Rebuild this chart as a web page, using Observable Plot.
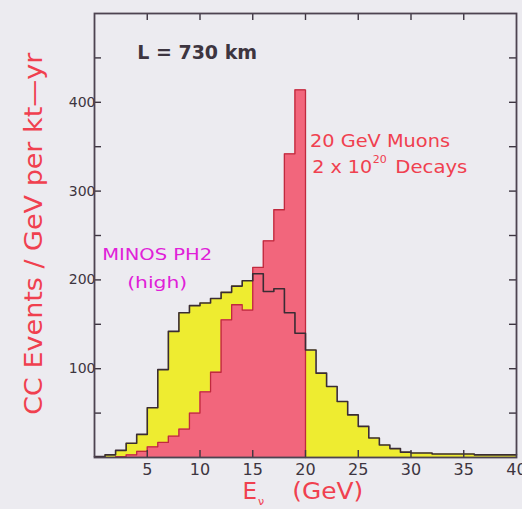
<!DOCTYPE html>
<html>
<head>
<meta charset="utf-8">
<script src="https://cdn.jsdelivr.net/npm/d3@7"></script>
<script src="https://cdn.jsdelivr.net/npm/@observablehq/plot@0.6"></script>
<style>
  html, body { margin: 0; padding: 0; background: #ecebf0; }
  #chart { width: 522px; height: 509px; overflow: hidden; }
</style>
</head>
<body>
<div id="chart"></div>
<script>
// ---- data ----
const binEdges = [0,1,2,3,4,5,6,7,8,9,10,11,12,13,14,15,16,17,18,19,20,
                  21,22,23,24,25,26,27,28,29,30,31,32,33,34,35,36,37,38,39,40];
// MINOS PH2 (high) spectrum, 1 GeV bins from 0 to 40 GeV
const minosPH2 = [1,3,8,16,26,56,99,142,163,171,174,179,186,193,199,207,187,190,163,140,
                  121,95,80,63,48,35,22,14,10,6,5,5,4,4,4,4,3,3,3,3];
// 20 GeV muon storage ring spectrum, 1 GeV bins from 0 to 20 GeV
const muons20 = [0,0,1,3,7,12,17,24,32,50,74,96,155,172,166,214,244,279,342,414];
const xTickLabels = [5,10,15,20,25,30,35,40];
const xTickMarks = [5,10,15,20,25,30,35];
const yTickLabels = [100,200,300,400];
const yTickMarks = [50,100,150,200,250,300,350,400,450];

// ---- derived tables ----
const stepOf = vals => {
  const pts = vals.map((v, i) => ({x: binEdges[i], y: v}));
  pts.push({x: binEdges[vals.length], y: vals[vals.length - 1]});
  return pts;
};
const yellowStep = stepOf(minosPH2);
const redFill = stepOf(muons20);
const redStep = redFill.filter((d, i) => i >= 2);
redStep.push({x: binEdges[muons20.length], y: 0});

const X = [0, 40], Y = [0, 500];
const TICK_X = 7 * (X[1] - X[0]) / 422;   // 7 px inward tick, in data units
const TICK_Y = 7 * (Y[1] - Y[0]) / 444;

const RED = "#f0404f";
const INK = "#3d3540";
const FONT = "DejaVu Sans, Liberation Sans, sans-serif";

const plot = Plot.plot({
  width: 522,
  height: 509,
  marginLeft: 94,
  marginRight: 6,
  marginTop: 13,
  marginBottom: 52,
  style: {background: "#ecebf0", fontFamily: FONT},
  x: {domain: X, label: null},
  y: {domain: Y, label: null},
  marks: [
    Plot.areaY(yellowStep, {x: "x", y: "y", curve: "step-after", fill: "#eeec30"}),
    Plot.areaY(redFill, {x: "x", y: "y", curve: "step-after", fill: "#f2667c"}),
    Plot.line(redStep, {x: "x", y: "y", curve: "step-after", stroke: "#c02a3e", strokeWidth: 1.3}),
    Plot.line(yellowStep, {x: "x", y: "y", curve: "step-after", stroke: "#3a2c34", strokeWidth: 1.6}),
    // inward tick marks on all four sides
    Plot.ruleX(xTickMarks, {x: d => d, y1: Y[0], y2: Y[0] + TICK_Y, stroke: INK, strokeWidth: 1.4}),
    Plot.ruleX(xTickMarks, {x: d => d, y1: Y[1], y2: Y[1] - TICK_Y, stroke: INK, strokeWidth: 1.4}),
    Plot.ruleY(yTickMarks, {y: d => d, x1: X[0], x2: X[0] + TICK_X, stroke: INK, strokeWidth: 1.4}),
    Plot.ruleY(yTickMarks, {y: d => d, x1: X[1], x2: X[1] - TICK_X, stroke: INK, strokeWidth: 1.4}),
    // tick labels
    Plot.axisX({anchor: "bottom", ticks: xTickLabels, tickSize: 0, tickPadding: 6, fontSize: 16, color: INK, label: null}),
    Plot.axisY({anchor: "left", ticks: yTickLabels, tickSize: 0, tickPadding: -1, fontSize: 14, color: INK, label: null}),
    Plot.frame({stroke: "#4d4350", strokeWidth: 1.8}),
    // annotations
    Plot.text(["L = 730 km"], {x: 9.73, y: 456, fontSize: 20, fontWeight: "bold", fill: INK, className: "t-L"}),
    Plot.text(["20 GeV Muons"], {x: 27.06, y: 355.7, fontSize: 18, fill: RED, className: "t-mu"}),
    Plot.text(["2 x 10"], {x: 23.48, y: 326.4, fontSize: 18, fill: RED, className: "t-2x"}),
    Plot.text(["20"], {x: 27.03, y: 334.8, fontSize: 10, fill: RED, className: "t-sup"}),
    Plot.text(["Decays"], {x: 31.93, y: 326.4, fontSize: 18, fill: RED, className: "t-dec"}),
    Plot.text(["MINOS PH2"], {x: 5.94, y: 227.7, fontSize: 16, fill: "#e020d8", className: "t-minos"}),
    Plot.text(["(high)"], {x: 5.94, y: 196.2, fontSize: 16, fill: "#e020d8", className: "t-high"}),
    Plot.text(["CC Events / GeV per kt\u2014yr"], {x: -5.78, y: 252, rotate: -90, fontSize: 25, fill: RED, className: "t-ylab"}),
    Plot.text(["E"], {x: 14.71, y: -38.9, fontSize: 23, fill: RED, className: "t-E"}),
    Plot.text(["\u03bd"], {x: 15.78, y: -49.6, fontSize: 11, fill: RED, className: "t-nu"}),
    Plot.text(["(GeV)"], {x: 22.11, y: -38.9, fontSize: 23, fill: RED, className: "t-gev"})
  ]
});

// stretch annotation texts to the widths seen in the reference
const textLengths = {"t-L": 120, "t-mu": 140, "t-2x": 60, "t-sup": 14, "t-dec": 72,
                     "t-minos": 110, "t-high": 60, "t-ylab": 362, "t-gev": 71};
const svg = d3.select(plot);
Object.entries(textLengths).forEach(([cls, len]) => {
  svg.selectAll(`.${cls} text`).attr("textLength", len).attr("lengthAdjust", "spacingAndGlyphs");
});
document.getElementById("chart").appendChild(plot);
</script>
</body>
</html>
